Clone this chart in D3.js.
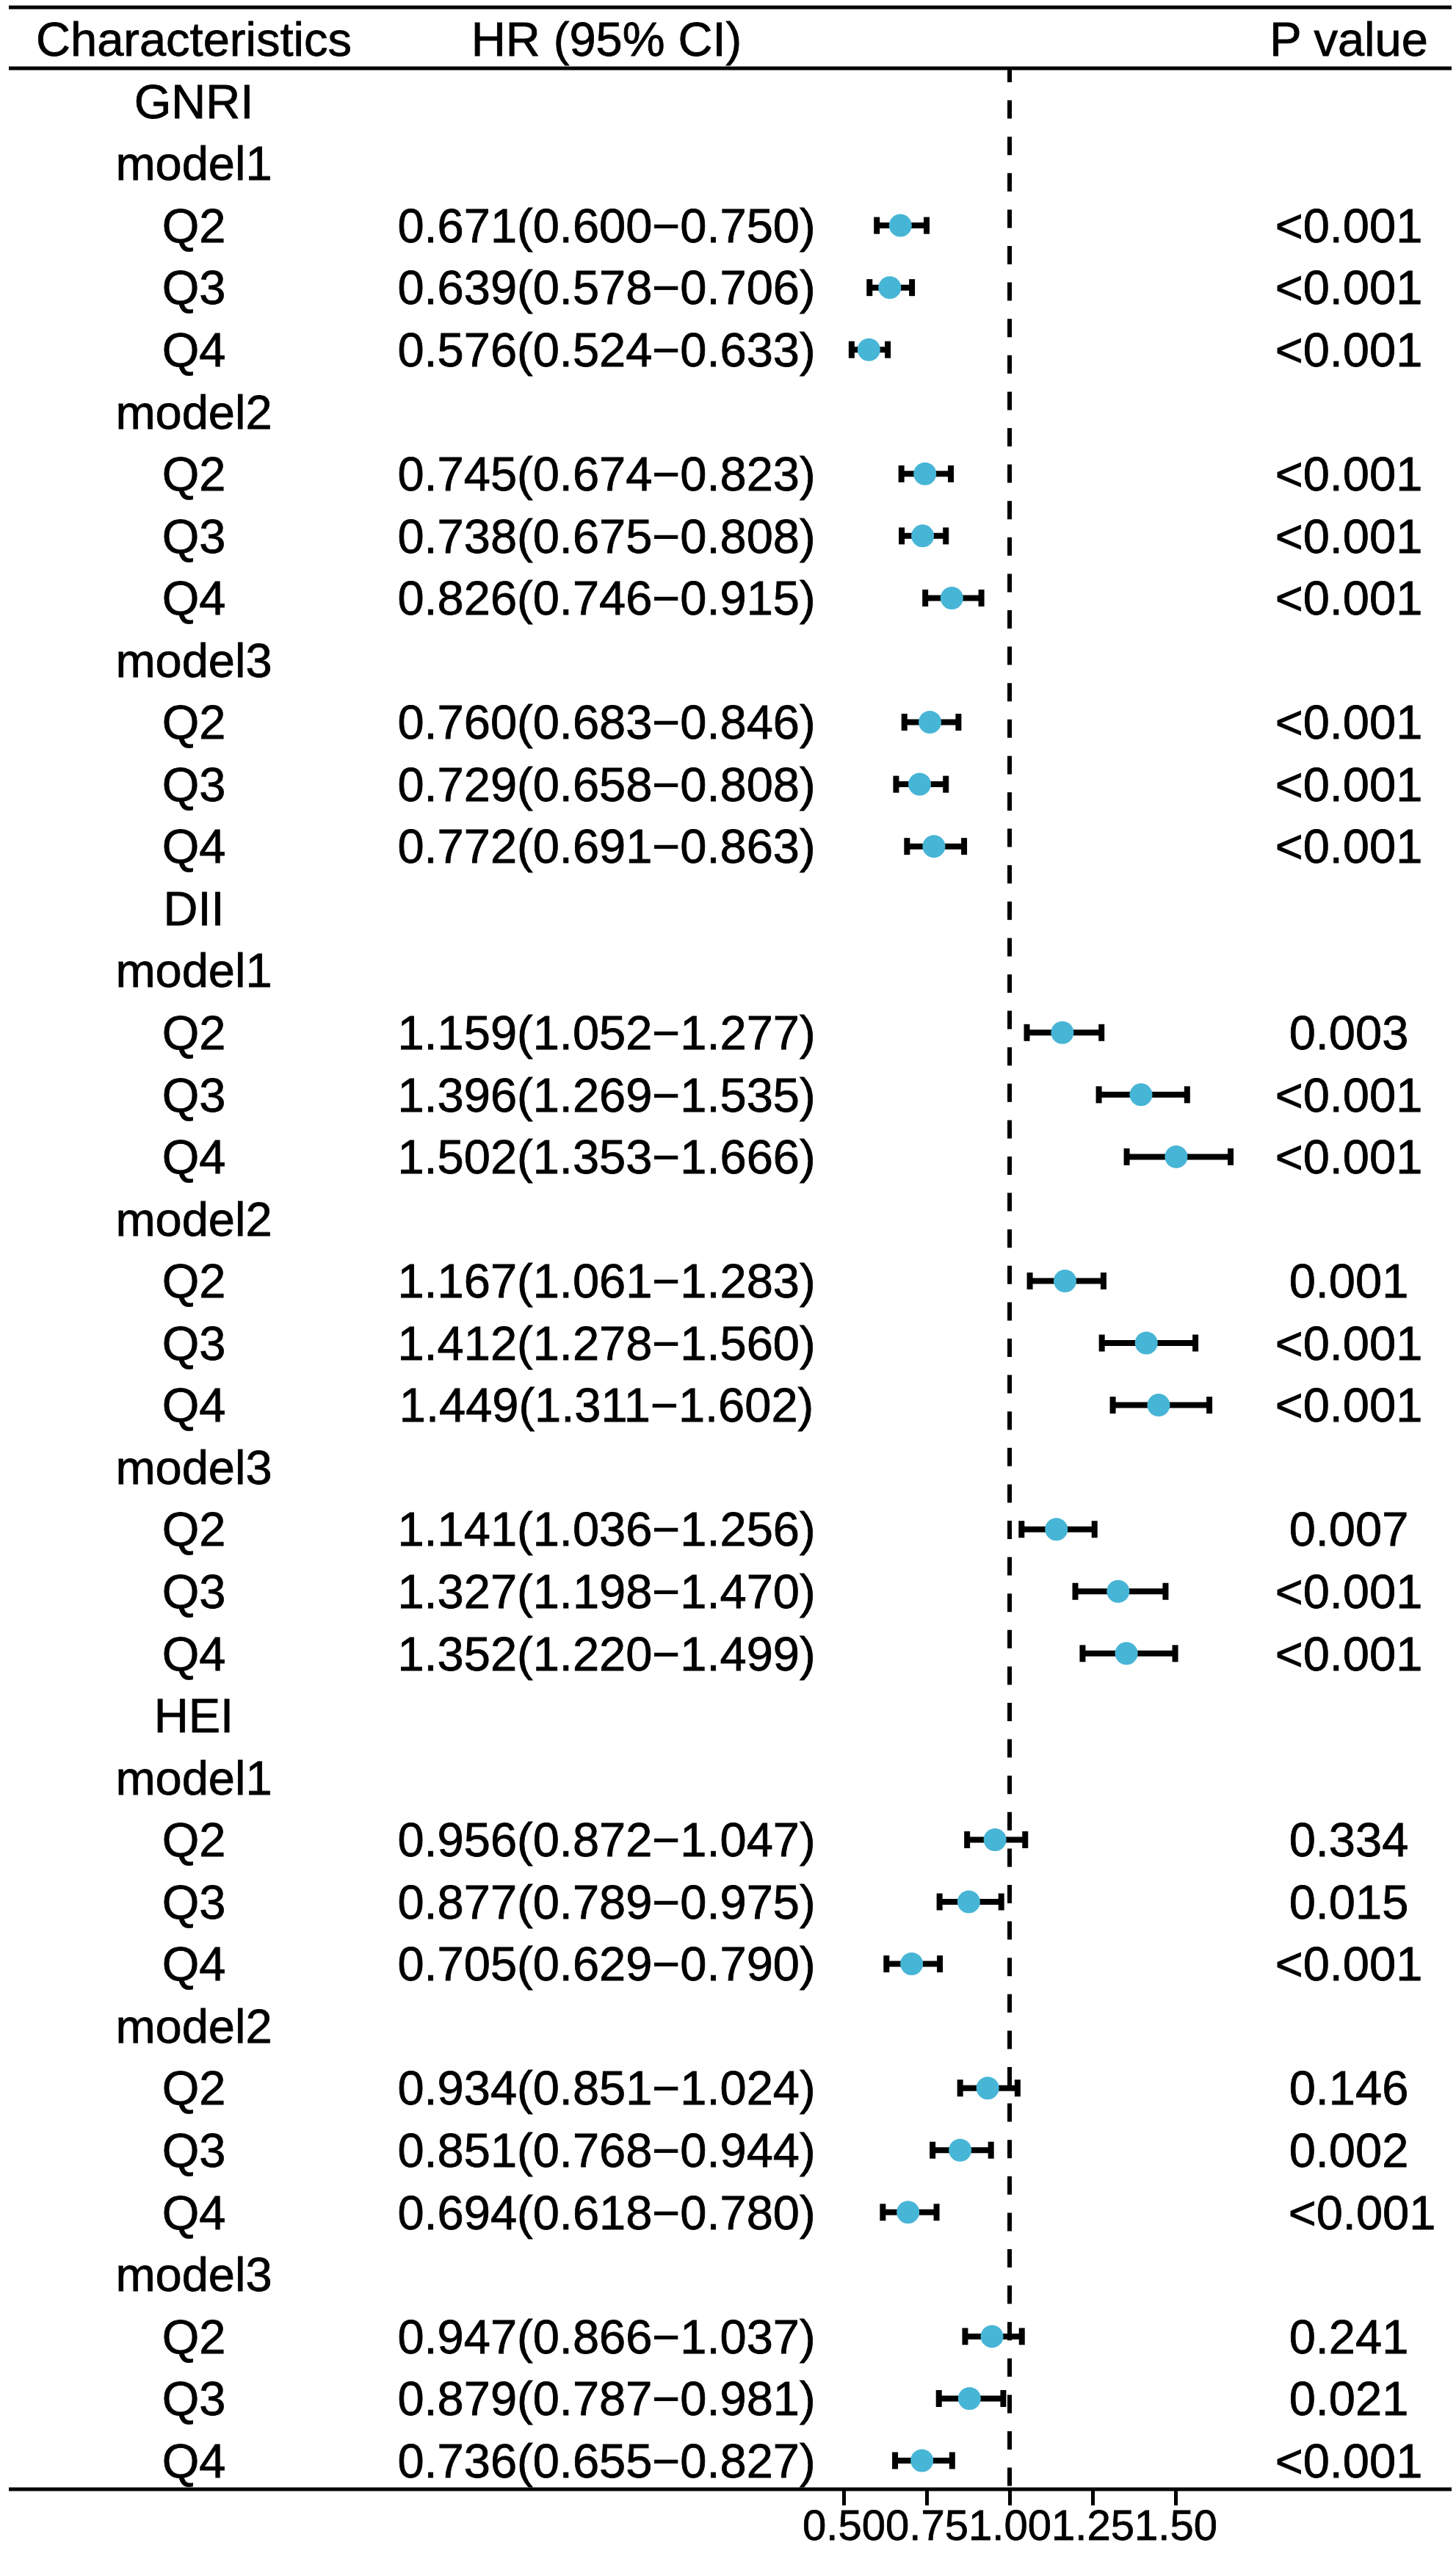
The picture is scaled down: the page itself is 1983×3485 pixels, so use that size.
<!DOCTYPE html>
<html>
<head>
<meta charset="utf-8">
<script src="https://cdn.jsdelivr.net/npm/d3@7"></script>
<style>
  html, body { margin: 0; padding: 0; background: #fff; }
  svg { display: block; }
  text { font-family: "Liberation Sans", Arial, sans-serif; fill: #000; white-space: pre; }
</style>
</head>
<body>
<script>
// categories
const groups = ["GNRI", "DII", "HEI"];
const models = ["model1", "model2", "model3"];
const quartiles = ["Q2", "Q3", "Q4"];
const headers = ["Characteristics", "HR (95% CI)", "P value"];
const tickValues = [0.5, 0.75, 1.0, 1.25, 1.5];

// HR, lower and upper CI, P value: GNRI m1..m3, DII m1..m3, HEI m1..m3 (Q2, Q3, Q4 each)
const hrEst = [
  0.671, 0.639, 0.576, 0.745, 0.738, 0.826, 0.760, 0.729, 0.772,
  1.159, 1.396, 1.502, 1.167, 1.412, 1.449, 1.141, 1.327, 1.352,
  0.956, 0.877, 0.705, 0.934, 0.851, 0.694, 0.947, 0.879, 0.736
];
const hrLow = [
  0.600, 0.578, 0.524, 0.674, 0.675, 0.746, 0.683, 0.658, 0.691,
  1.052, 1.269, 1.353, 1.061, 1.278, 1.311, 1.036, 1.198, 1.220,
  0.872, 0.789, 0.629, 0.851, 0.768, 0.618, 0.866, 0.787, 0.655
];
const hrHigh = [
  0.750, 0.706, 0.633, 0.823, 0.808, 0.915, 0.846, 0.808, 0.863,
  1.277, 1.535, 1.666, 1.283, 1.560, 1.602, 1.256, 1.470, 1.499,
  1.047, 0.975, 0.790, 1.024, 0.944, 0.780, 1.037, 0.981, 0.827
];
const pValues = [
  "<0.001", "<0.001", "<0.001", "<0.001", "<0.001", "<0.001", "<0.001", "<0.001", "<0.001",
  "0.003", "<0.001", "<0.001", "0.001", "<0.001", "<0.001", "0.007", "<0.001", "<0.001",
  "0.334", "0.015", "<0.001", "0.146", "0.002", "\u00a0\u00a0<0.001", "0.241", "0.021", "<0.001"
];

// build the table rows
const rows = [];
let k = 0;
groups.forEach(g => {
  rows.push({label: g});
  models.forEach(m => {
    rows.push({label: m});
    quartiles.forEach(q => {
      rows.push({label: q, est: hrEst[k], lo: hrLow[k], hi: hrHigh[k], p: pValues[k]});
      k++;
    });
  });
});
rows.forEach((r, i) => r.i = i);
const fmt = d3.format(".3f");

const width = 1983, height = 3485;
const fontSize = 65;
const colX = [264, 826, 1837];
const ruleX = [12, 1977];
const topRule = 10, headRule = 93, bottomRule = 3390;
const dotColor = "#47b5d6";

const svg = d3.select("body").append("svg")
  .attr("width", width)
  .attr("height", height)
  .attr("viewBox", `0 0 ${width} ${height}`);

const y = d3.scalePoint()
  .domain(rows.map(r => r.i))
  .range([138, 3351]);

const x = d3.scaleLinear()
  .domain([0.5, 1.5])
  .range([1149, 1601]);

// header
svg.append("g")
  .attr("stroke", "#000")
  .attr("stroke-width", 0.8)
  .selectAll("text")
  .data(headers)
  .join("text")
    .attr("x", (d, i) => colX[i])
    .attr("y", 53)
    .attr("dy", "0.35em")
    .attr("text-anchor", "middle")
    .attr("font-size", fontSize)
    .text(d => d);

// rules
svg.append("g")
  .attr("stroke", "#000")
  .attr("stroke-width", 5)
  .selectAll("line")
  .data([topRule, headRule, bottomRule])
  .join("line")
    .attr("x1", ruleX[0])
    .attr("x2", ruleX[1])
    .attr("y1", d => d)
    .attr("y2", d => d);

// reference line at HR = 1
svg.append("line")
  .attr("x1", x(1)).attr("x2", x(1))
  .attr("y1", headRule).attr("y2", bottomRule)
  .attr("stroke", "#000")
  .attr("stroke-width", 6)
  .attr("stroke-dasharray", "25,24.6")
  .attr("stroke-dashoffset", 6);

// text columns
const body = svg.append("g")
  .attr("font-size", fontSize)
  .attr("text-anchor", "middle")
  .attr("stroke", "#000")
  .attr("stroke-width", 0.8);

body.selectAll("text.label")
  .data(rows)
  .join("text")
    .attr("class", "label")
    .attr("x", colX[0])
    .attr("y", d => y(d.i))
    .attr("dy", "0.35em")
    .text(d => d.label);

const dataRows = rows.filter(r => r.est !== undefined);

body.selectAll("text.hr")
  .data(dataRows)
  .join("text")
    .attr("class", "hr")
    .attr("x", colX[1])
    .attr("y", d => y(d.i))
    .attr("dy", "0.35em")
    .text(d => `${fmt(d.est)}(${fmt(d.lo)}\u2212${fmt(d.hi)})`);

body.selectAll("text.p")
  .data(dataRows)
  .join("text")
    .attr("class", "p")
    .attr("x", colX[2])
    .attr("y", d => y(d.i))
    .attr("dy", "0.35em")
    .text(d => d.p);

// error bars
const bars = svg.append("g")
  .attr("stroke", "#000")
  .attr("stroke-width", 8);

bars.selectAll("line.ci")
  .data(dataRows)
  .join("line")
    .attr("class", "ci")
    .attr("x1", d => x(d.lo))
    .attr("x2", d => x(d.hi))
    .attr("y1", d => y(d.i))
    .attr("y2", d => y(d.i));

const capH = 11.5;
bars.selectAll("line.capl")
  .data(dataRows)
  .join("line")
    .attr("class", "capl")
    .attr("x1", d => x(d.lo)).attr("x2", d => x(d.lo))
    .attr("y1", d => y(d.i) - capH)
    .attr("y2", d => y(d.i) + capH);

bars.selectAll("line.caph")
  .data(dataRows)
  .join("line")
    .attr("class", "caph")
    .attr("x1", d => x(d.hi)).attr("x2", d => x(d.hi))
    .attr("y1", d => y(d.i) - capH)
    .attr("y2", d => y(d.i) + capH);

// points
svg.append("g")
  .attr("fill", dotColor)
  .selectAll("circle")
  .data(dataRows)
  .join("circle")
    .attr("cx", d => x(d.est))
    .attr("cy", d => y(d.i))
    .attr("r", 15.5);

// x axis on the bottom rule
const xAxis = g => g
  .attr("transform", `translate(0,${bottomRule})`)
  .call(d3.axisBottom(x)
    .tickValues(tickValues)
    .tickFormat(d3.format(".2f"))
    .tickSize(22)
    .tickPadding(6))
  .call(g => g.select(".domain").remove())
  .call(g => g.selectAll(".tick line").attr("stroke", "#000").attr("stroke-width", 5))
  .call(g => g.selectAll(".tick text")
    .attr("fill", "#000")
    .attr("stroke", "#000")
    .attr("stroke-width", 0.8)
    .attr("font-size", 58)
    .attr("font-family", "Liberation Sans, Arial, sans-serif"));

svg.append("g").call(xAxis);
</script>
</body>
</html>
